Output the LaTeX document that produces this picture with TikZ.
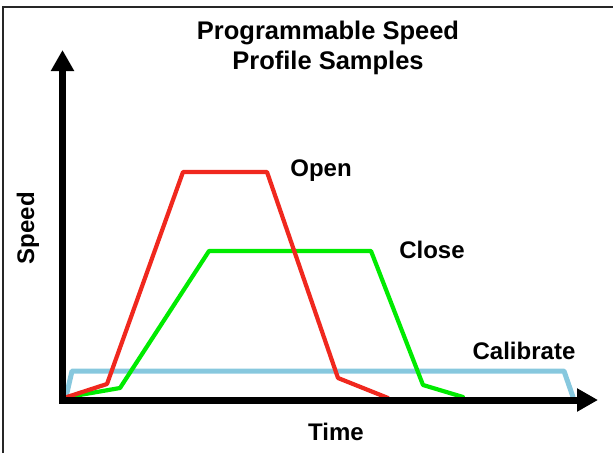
\documentclass[tikz,border=0pt]{standalone}
\usepackage{fontspec}
\setmainfont{Liberation Sans}
\usetikzlibrary{arrows.meta}
\definecolor{openred}{RGB}{240,40,30}
\definecolor{closegreen}{RGB}{0,235,0}
\definecolor{calblue}{RGB}{135,200,222}
\tikzset{
  lbl/.style={font=\fontsize{24}{28}\selectfont\bfseries, inner sep=0pt},
  curve/.style={line width=4.2pt, line join=round, line cap=round},
  axis/.style={line width=7pt, line join=miter,
    {Triangle[length=21pt,width=22pt]}-{Triangle[length=21pt,width=22pt]}},
}
\begin{document}
\begin{tikzpicture}[x=1pt,y=-1pt]
\useasboundingbox (0,0) rectangle (613,453);
% frame
\draw[line width=1.3pt, black!85] (3,453) -- (3,7) -- (613,7);
% title
\node[lbl, align=center, font=\fontsize{25.5}{30}\selectfont\bfseries] (title) at (328,48) {Programmable Speed\\Profile Samples};
% coordinates
\coordinate (O) at (62.5,400);
\coordinate (ytip) at (62.5,50);
\coordinate (xtip) at (598,400);
% curves
\coordinate (b0) at (66,397);
\coordinate (b1) at (72,371);
\coordinate (b2) at (564,371);
\coordinate (b3) at (573,397);
\draw[curve, calblue, line width=5pt] (b0) -- (b1) -- (b2) -- (b3);
\coordinate (g0) at (68,397);
\coordinate (g1) at (120,388);
\coordinate (g2) at (209,251);
\coordinate (g3) at (371,251);
\coordinate (g4) at (423,385);
\coordinate (g5) at (463,397);
\draw[curve, closegreen] (g0) -- (g1) -- (g2) -- (g3) -- (g4) -- (g5);
\coordinate (r0) at (67,397);
\coordinate (r1) at (107,384);
\coordinate (r2) at (183,172);
\coordinate (r3) at (267,172);
\coordinate (r4) at (338,378);
\coordinate (r5) at (388,398);
\draw[curve, openred] (r0) -- (r1) -- (r2) -- (r3) -- (r4) -- (r5);
% axes
\draw[axis] (ytip) -- (O) -- (xtip);
% labels
\node[lbl] (open) at (321,171) {Open};
\node[lbl] (close) at (432,250) {Close};
\node[lbl] (cal) at (524,351) {Calibrate};
\node[lbl] (time) at (336,432) {Time};
\node[lbl, rotate=90] (speed) at (28,228) {Speed};
\end{tikzpicture}
\end{document}
